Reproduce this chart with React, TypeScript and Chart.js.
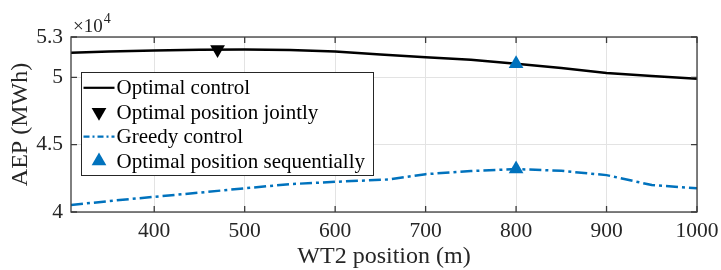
import React, { useEffect, useRef } from "react";
import { Chart, registerables } from "chart.js";

Chart.register(...registerables);

// ---- data ----
const optimalX = [308, 350, 400, 450, 500, 550, 600, 650, 700, 750, 800, 850, 900, 950, 1000];
const optimalAEP = [51830, 51920, 52000, 52050, 52070, 52030, 51920, 51700, 51500, 51310, 51010, 50690, 50320, 50110, 49900];

const greedyX = [308, 350, 400, 450, 500, 550, 600, 660, 700, 750, 800, 850, 900, 950, 1000];
const greedyAEP = [40520, 40810, 41130, 41440, 41760, 42070, 42240, 42420, 42810, 43040, 43190, 43060, 42740, 42000, 41760];

const jointX = [470];
const jointAEP = [52070];

const seqX = [800, 800];
const seqAEP = [51010, 43190];

const xTicks = [400, 500, 600, 700, 800, 900, 1000];
const yTicks = [40000, 45000, 50000, 53000];
const yTickLabels = ["4", "4.5", "5", "5.3"];

const legendLabels = [
  "Optimal control",
  "Optimal position jointly",
  "Greedy control",
  "Optimal position sequentially",
];

const BLUE = "#0072BD";
const AXIS = "#262626";
const SERIF = "'Liberation Serif', 'Times New Roman', serif";
const DASHDOT = [12, 4, 3, 4];

const zip = (xs: number[], ys: number[]) => xs.map((x, i) => ({ x, y: ys[i] }));

const framePlugin = {
  id: "frame",
  afterDraw(chart: any) {
    const { ctx, chartArea: a, scales } = chart;
    const xs = scales.x;
    const ys = scales.y;
    ctx.save();
    // box
    ctx.strokeStyle = "#3c3c3c";
    ctx.lineWidth = 1.3;
    ctx.strokeRect(a.left, a.top, a.right - a.left, a.bottom - a.top);
    // inward tick marks
    const tl = 6;
    ctx.beginPath();
    xTicks.forEach((v) => {
      const px = xs.getPixelForValue(v);
      ctx.moveTo(px, a.bottom);
      ctx.lineTo(px, a.bottom - tl);
      ctx.moveTo(px, a.top);
      ctx.lineTo(px, a.top + tl);
    });
    yTicks.forEach((v) => {
      const py = ys.getPixelForValue(v);
      ctx.moveTo(a.left, py);
      ctx.lineTo(a.left + tl, py);
      ctx.moveTo(a.right, py);
      ctx.lineTo(a.right - tl, py);
    });
    ctx.stroke();

    // exponent label
    ctx.fillStyle = AXIS;
    ctx.textBaseline = "alphabetic";
    ctx.textAlign = "left";
    ctx.font = `19px ${SERIF}`;
    ctx.fillText("\u00d710", a.left + 2, 32);
    const w = ctx.measureText("\u00d710").width;
    ctx.font = `14px ${SERIF}`;
    ctx.fillText("4", a.left + 2 + w + 1, 23);

    // legend
    const lx = 81, ly = 72, lw = 292, lh = 103;
    ctx.fillStyle = "#ffffff";
    ctx.fillRect(lx, ly, lw, lh);
    ctx.strokeStyle = "#262626";
    ctx.lineWidth = 1;
    ctx.strokeRect(lx + 0.5, ly + 0.5, lw, lh);
    const rows = [87.8, 112.2, 136.6, 161];
    const sx0 = 83.5, sx1 = 114.5, mx = 99;
    ctx.font = `21px ${SERIF}`;
    ctx.textBaseline = "middle";
    rows.forEach((ry, i) => {
      if (i === 0 || i === 2) {
        ctx.save();
        ctx.strokeStyle = i === 0 ? "#000000" : BLUE;
        ctx.lineWidth = 2.2;
        ctx.setLineDash(i === 0 ? [] : [6, 3, 2, 3]);
        ctx.beginPath();
        ctx.moveTo(sx0, ry);
        ctx.lineTo(sx1, ry);
        ctx.stroke();
        ctx.restore();
      } else {
        const r = 8.5;
        const down = i === 1;
        ctx.fillStyle = down ? "#000000" : BLUE;
        ctx.beginPath();
        const s = down ? -1 : 1;
        ctx.moveTo(mx, ry - s * r);
        ctx.lineTo(mx - r * 0.866, ry + s * r * 0.5);
        ctx.lineTo(mx + r * 0.866, ry + s * r * 0.5);
        ctx.closePath();
        ctx.fill();
      }
      ctx.fillStyle = "#000000";
      ctx.fillText(legendLabels[i], 116.5, ry + 1);
    });
    ctx.restore();
  },
};

export default function App() {
  const ref = useRef<HTMLCanvasElement>(null);

  useEffect(() => {
    document.body.style.margin = "0";
    const canvas = ref.current!;
    const chart = new Chart(canvas, {
      type: "line",
      data: {
        datasets: [
          {
            label: legendLabels[0],
            data: zip(optimalX, optimalAEP),
            borderColor: "#000000",
            borderWidth: 2.5,
            pointRadius: 0,
            tension: 0,
            order: 3,
          },
          {
            label: legendLabels[1],
            data: zip(jointX, jointAEP),
            showLine: false,
            pointStyle: "triangle",
            rotation: 180,
            pointRadius: 8.5,
            backgroundColor: "#000000",
            borderColor: "#000000",
            borderWidth: 0,
            order: 1,
          },
          {
            label: legendLabels[2],
            data: zip(greedyX, greedyAEP),
            borderColor: BLUE,
            borderWidth: 2.5,
            borderDash: DASHDOT,
            pointRadius: 0,
            tension: 0,
            order: 3,
          },
          {
            label: legendLabels[3],
            data: zip(seqX, seqAEP),
            showLine: false,
            pointStyle: "triangle",
            pointRadius: 8.5,
            backgroundColor: BLUE,
            borderColor: BLUE,
            borderWidth: 0,
            order: 1,
          },
        ],
      },
      options: {
        responsive: false,
        animation: false,
        layout: { padding: { left: 0, right: 24, top: 37, bottom: 0 } },
        plugins: {
          legend: { display: false },
          tooltip: { enabled: false },
        },
        scales: {
          x: {
            type: "linear",
            min: 308,
            max: 1000,
            afterBuildTicks: (s: any) => {
              s.ticks = xTicks.map((v) => ({ value: v }));
            },
            afterFit: (s: any) => {
              s.height = 58;
              s.paddingRight = 0;
            },
            ticks: {
              color: AXIS,
              font: { family: SERIF, size: 21.5 },
              padding: 6,
              maxRotation: 0,
              autoSkip: false,
              callback: (v: any) => String(v),
            },
            grid: { color: "#e3e3e3", lineWidth: 1, drawTicks: false },
            border: { display: false },
            title: {
              display: true,
              text: "WT2 position (m)",
              color: AXIS,
              font: { family: SERIF, size: 24, lineHeight: 1 },
              padding: { top: 0, bottom: 1 },
            },
          },
          y: {
            type: "linear",
            min: 40000,
            max: 53000,
            afterBuildTicks: (s: any) => {
              s.ticks = yTicks.map((v) => ({ value: v }));
            },
            afterFit: (s: any) => {
              s.width = 71;
            },
            ticks: {
              color: AXIS,
              font: { family: SERIF, size: 21.5 },
              padding: 8,
              callback: (v: any) => {
                const i = yTicks.indexOf(Number(v));
                return i >= 0 ? yTickLabels[i] : "";
              },
            },
            grid: { color: "#e3e3e3", lineWidth: 1, drawTicks: false },
            border: { display: false },
            title: {
              display: true,
              text: "AEP (MWh)",
              color: AXIS,
              font: { family: SERIF, size: 24, lineHeight: 1 },
              padding: { top: 9, bottom: 0 },
            },
          },
        },
      },
      plugins: [framePlugin],
    } as any);
    return () => chart.destroy();
  }, []);

  return <canvas ref={ref} width={721} height={270} style={{ display: "block" }} />;
}
